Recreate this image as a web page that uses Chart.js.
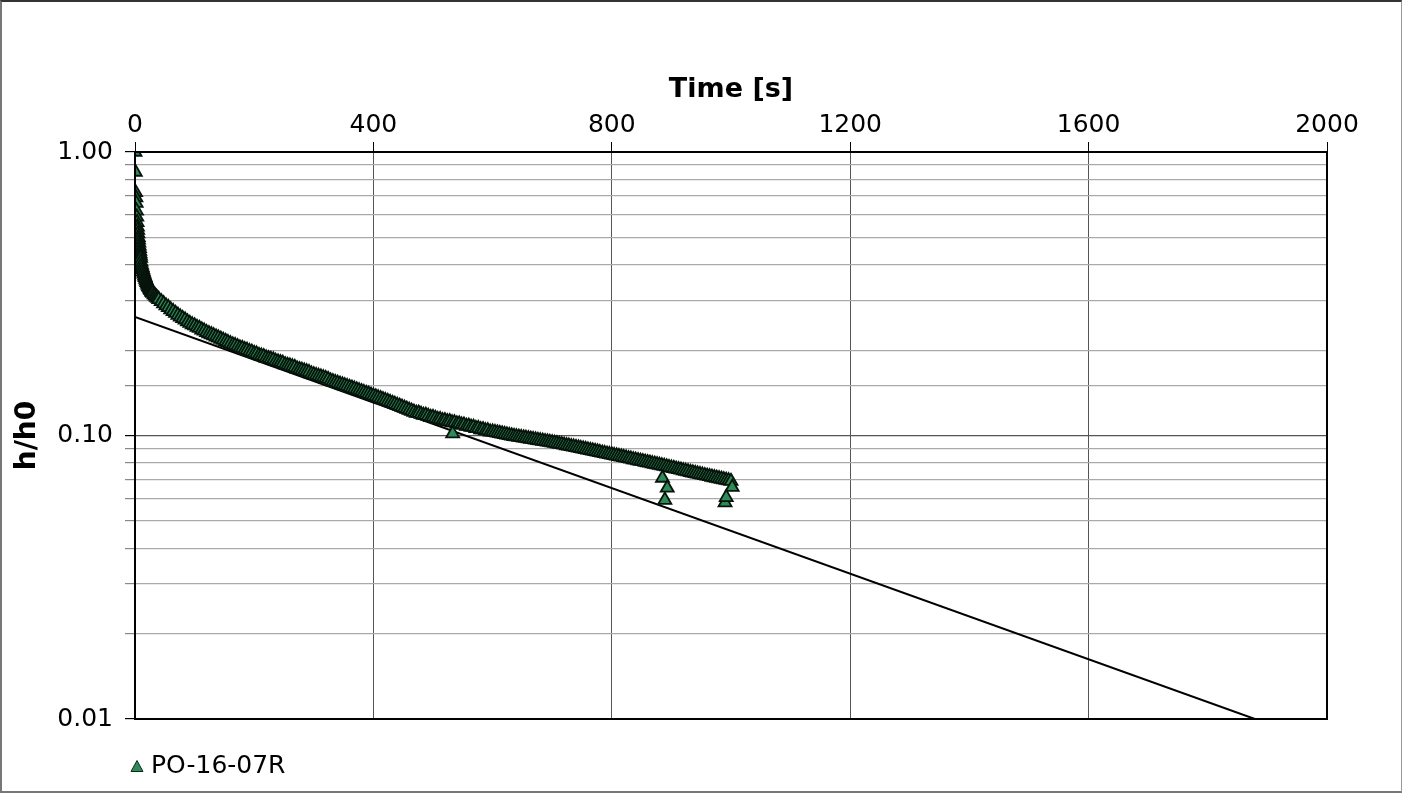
<!DOCTYPE html>
<html>
<head>
<meta charset="utf-8">
<script src="https://cdn.jsdelivr.net/npm/chart.js@4"></script>
<style>
  html, body { margin: 0; padding: 0; background: #fff; }
  #frame {
    position: relative; width: 1402px; height: 793px; box-sizing: border-box;
    border-top: 2px solid #333; border-left: 2px solid #777;
    border-right: 1px solid #999; border-bottom: 2px solid #777;
    font-family: "DejaVu Sans", Verdana, sans-serif;
  }
  #chart { position: absolute; left: 0; top: 0; }
  #legend { position: absolute; left: 128px; top: 748px; font-size: 25px; color: #000; }
  #legend svg { vertical-align: middle; margin-right: 7px; }
</style>
</head>
<body>
<div id="frame">
  <canvas id="chart" width="1399" height="789"></canvas>
  <div id="legend"><svg width="14" height="14" viewBox="0 0 14 14"><polygon points="7,1.5 13,12.5 1,12.5" fill="#2e8b57" stroke="#0b2a1a" stroke-width="1"/></svg><span>PO-16-07R</span></div>
</div>
<script>
// ── Data ──────────────────────────────────────────────────────────────────────

const SERIES_LABEL = 'PO-16-07R';

// elapsed time [s]
const TIMES = [
  0, 0.5, 1, 1.5, 2, 2.5, 3, 3.5, 4, 4.5, 5, 5.5, 6, 6.5, 7, 7.5, 8, 8.5, 9, 9.5,
  10, 11, 12, 13, 14, 15, 16, 17, 18, 19, 20, 21, 22, 23, 24, 25, 26, 27, 28, 29,
  30, 32, 34, 36, 38, 40,
  44, 48, 52, 56, 60, 64, 68, 72, 76, 80, 84, 88, 92, 96, 100,
  104, 108, 112, 116, 120, 124, 128, 132, 136, 140, 144, 148, 152, 156, 160,
  164, 168, 172, 176, 180, 184, 188, 192, 196, 200,
  204, 208, 212, 216, 220, 224, 228, 232, 236, 240, 244, 248,
  252, 256, 260, 264, 268, 272, 276, 280, 284, 288, 292, 296, 300,
  304, 308, 312, 316, 320, 324, 328, 332, 336, 340, 344, 348,
  352, 356, 360, 364, 368, 372, 376, 380, 384, 388, 392, 396, 400,
  404, 408, 412, 416, 420, 424, 428, 432, 436, 440, 444, 448,
  452, 456, 460, 464, 468, 472, 476, 480, 484, 488, 492, 496, 500,
  504, 508, 512, 516, 520, 524, 528, 532, 536, 540, 544, 548,
  552, 556, 560, 564, 568, 572, 576, 580, 584, 588, 592, 596, 600,
  604, 608, 612, 616, 620, 624, 628, 632, 636, 640, 644, 648,
  652, 656, 660, 664, 668, 672, 676, 680, 684, 688, 692, 696, 700,
  704, 708, 712, 716, 720, 724, 728, 732, 736, 740, 744, 748,
  752, 756, 760, 764, 768, 772, 776, 780, 784, 788, 792, 796, 800,
  804, 808, 812, 816, 820, 824, 828, 832, 836, 840, 844, 848,
  852, 856, 860, 864, 868, 872, 876, 880, 884, 888, 892, 896, 900,
  904, 908, 912, 916, 920, 924, 928, 932, 936, 940, 944, 948,
  952, 956, 960, 964, 968, 972, 976, 980, 984, 988, 992, 996, 1000,
  // stray readings below the band
  533, 885, 889, 893, 990, 992, 1002,
];

// normalised head h/h0
const HEADS = [
  1.00, 0.85, 0.72, 0.69, 0.66, 0.62, 0.59, 0.565, 0.545, 0.53, 0.515, 0.50, 0.49, 0.478, 0.467, 0.457, 0.447, 0.438, 0.43, 0.422,
  0.41, 0.40, 0.392, 0.385, 0.378, 0.372, 0.366, 0.361, 0.356, 0.351, 0.347, 0.343, 0.339, 0.336, 0.333, 0.330, 0.327, 0.325, 0.322, 0.320,
  0.318, 0.314, 0.311, 0.308, 0.305, 0.302,
  0.297, 0.292, 0.287, 0.283, 0.278, 0.274, 0.270, 0.266, 0.262, 0.259, 0.256, 0.252, 0.249, 0.246, 0.244,
  0.241, 0.239, 0.236, 0.234, 0.231, 0.229, 0.227, 0.225, 0.223, 0.221, 0.219, 0.217, 0.215, 0.213, 0.211,
  0.209, 0.208, 0.206, 0.204, 0.203, 0.201, 0.200, 0.198, 0.197, 0.195,
  0.194, 0.192, 0.191, 0.190, 0.188, 0.187, 0.186, 0.185, 0.183, 0.182, 0.181, 0.180,
  0.178, 0.177, 0.176, 0.175, 0.174, 0.172, 0.171, 0.170, 0.169, 0.168, 0.167, 0.165, 0.164,
  0.163, 0.162, 0.161, 0.160, 0.159, 0.158, 0.156, 0.155, 0.154, 0.153, 0.152, 0.151,
  0.150, 0.149, 0.148, 0.147, 0.146, 0.145, 0.144, 0.143, 0.142, 0.141, 0.140, 0.139, 0.138,
  0.137, 0.136, 0.135, 0.134, 0.133, 0.132, 0.131, 0.130, 0.129, 0.128, 0.127, 0.126,
  0.125, 0.124, 0.123, 0.122, 0.121, 0.120, 0.120, 0.119, 0.118, 0.118, 0.117, 0.116, 0.116,
  0.115, 0.114, 0.114, 0.113, 0.113, 0.112, 0.112, 0.111, 0.111, 0.110, 0.110, 0.109,
  0.109, 0.108, 0.108, 0.107, 0.107, 0.106, 0.106, 0.105, 0.105, 0.104, 0.104, 0.103, 0.103,
  0.1026, 0.1022, 0.1018, 0.1014, 0.101, 0.1006, 0.1002, 0.0998, 0.0994, 0.0991, 0.0988, 0.0985,
  0.0982, 0.0979, 0.0976, 0.0972, 0.0969, 0.0966, 0.0962, 0.0959, 0.0956, 0.0953, 0.095, 0.0947, 0.0944,
  0.094, 0.0937, 0.0933, 0.093, 0.0926, 0.0922, 0.0919, 0.0915, 0.0912, 0.0908, 0.0905, 0.0901,
  0.0898, 0.0894, 0.089, 0.0887, 0.0883, 0.088, 0.0876, 0.0872, 0.0868, 0.0865, 0.0861, 0.0858, 0.0855,
  0.0851, 0.0848, 0.0844, 0.0841, 0.0837, 0.0834, 0.083, 0.0827, 0.0823, 0.082, 0.0816, 0.0813,
  0.081, 0.0806, 0.0803, 0.080, 0.0796, 0.0793, 0.079, 0.0786, 0.0783, 0.078, 0.0776, 0.0772, 0.0769,
  0.0766, 0.0762, 0.0759, 0.0756, 0.0752, 0.0749, 0.0746, 0.0742, 0.0739, 0.0736, 0.0732, 0.0729,
  0.0726, 0.0723, 0.072, 0.0717, 0.0714, 0.0711, 0.0708, 0.0705, 0.0702, 0.0699, 0.0696, 0.0693, 0.069,
  0.1015, 0.0708, 0.0592, 0.0653, 0.058, 0.0605, 0.0657,
];

// straight-line fit drawn over the data
const FIT_TIMES = [0, 1879];
const FIT_HEADS = [0.262, 0.01];

const X_MIN = 0, X_MAX = 2000, X_STEP = 400;
const Y_MIN = 0.01, Y_MAX = 1;

// ── Helpers ───────────────────────────────────────────────────────────────────

const isDecade = v => Math.abs(Math.log10(v) - Math.round(Math.log10(v))) < 1e-6;

const points = TIMES.map((t, i) => ({ x: t, y: HEADS[i] }));
const fit = FIT_TIMES.map((t, i) => ({ x: t, y: FIT_HEADS[i] }));

// ── Chart ─────────────────────────────────────────────────────────────────────

Chart.defaults.font.family = '"DejaVu Sans", Verdana, sans-serif';
Chart.defaults.color = '#000';

new Chart(document.getElementById('chart'), {
  type: 'scatter',
  data: {
    datasets: [
      {
        label: SERIES_LABEL,
        data: points,
        pointStyle: 'triangle',
        pointRadius: 7.5,
        pointBackgroundColor: '#2e8b57',
        pointBorderColor: '#07140c',
        pointBorderWidth: 1.8,
        clip: 0,
        order: 1,
      },
      {
        label: 'fit',
        data: fit,
        showLine: true,
        borderColor: '#000',
        borderWidth: 2,
        pointRadius: 0,
        clip: 0,
        order: 2,
      },
    ],
  },
  options: {
    responsive: false,
    animation: false,
    layout: { padding: { left: 0, top: 0, right: 74, bottom: 72 } },
    plugins: { legend: { display: false }, tooltip: { enabled: false } },
    scales: {
      x: {
        type: 'linear',
        position: 'top',
        min: X_MIN, max: X_MAX,
        afterFit: s => { s.height = 150; },
        border: { color: '#000', width: 2 },
        grid: { color: '#555', lineWidth: 1, tickLength: 10, tickColor: '#000' },
        ticks: { stepSize: X_STEP, font: { size: 25 }, padding: 2, maxRotation: 0, callback: v => String(v) },
        title: { display: true, text: 'Time [s]', font: { size: 27, weight: 'bold' }, padding: { top: 72, bottom: 0 } },
      },
      y: {
        type: 'logarithmic',
        min: Y_MIN, max: Y_MAX,
        afterFit: s => { s.width = 133; },
        border: { color: '#000', width: 2 },
        grid: {
          color: ctx => isDecade(ctx.tick.value) ? '#555' : '#aaa',
          tickColor: ctx => isDecade(ctx.tick.value) ? '#000' : '#888',
          lineWidth: 1.2,
          tickLength: 10,
        },
        ticks: {
          autoSkip: false,
          font: { size: 25 },
          padding: 12,
          callback: v => isDecade(v) ? Number(v).toFixed(2) : '',
        },
        title: { display: true, text: 'h/h0', font: { size: 28, weight: 'bold' }, padding: { top: 9, bottom: 0 } },
      },
    },
  },
  plugins: [{
    id: 'plotFrame',
    afterDraw(chart) {
      const { ctx, chartArea: a } = chart;
      ctx.save();
      ctx.strokeStyle = '#000';
      ctx.lineWidth = 2;
      ctx.strokeRect(a.left, a.top, a.right - a.left, a.bottom - a.top);
      ctx.restore();
    },
  }],
});
</script>
</body>
</html>
